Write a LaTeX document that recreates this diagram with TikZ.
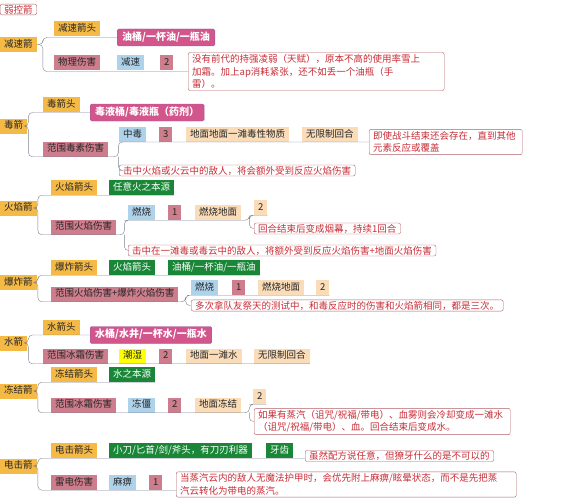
\documentclass[tikz,border=0pt]{standalone}
\usepackage{fontspec}
\setmainfont{Noto Sans CJK SC}
\usepackage{xcolor}
\usepackage{tikz}
\usetikzlibrary{positioning, calc}
\definecolor{arOrange}{RGB}{245, 185, 70}
\definecolor{arMauve}{RGB}{205, 125, 140}
\definecolor{arBlue}{RGB}{175, 210, 235}
\definecolor{arPeach}{RGB}{250, 220, 185}
\definecolor{arGreen}{RGB}{25, 135, 55}
\definecolor{arPink}{RGB}{210, 85, 140}
\definecolor{arPinkLine}{RGB}{150, 90, 170}
\definecolor{arNote}{RGB}{200, 45, 55}
\definecolor{arNoteLine}{RGB}{175, 95, 100}
\definecolor{arLink}{RGB}{125, 130, 145}
\definecolor{arWet}{RGB}{255, 255, 0}

\begin{document}
\begin{tikzpicture}[x=1pt,y=-1pt,
  box/.style={anchor=west, inner xsep=4pt, inner ysep=1pt, minimum height=15pt,
    text height=7.5pt, text depth=2pt, font=\fontsize{9.5}{11}\selectfont, text=black!85},
  cat/.style={box, fill=arOrange},
  dmg/.style={box, fill=arMauve},
  eff/.style={box, fill=arBlue},
  gnd/.style={box, fill=arPeach},
  src/.style={box, fill=arGreen, text=white},
  ing/.style={box, fill=arPink, draw=arPinkLine, rounded corners=1.5pt, text=white,
    minimum height=17pt, inner xsep=5pt, font=\fontsize{10}{11}\selectfont\bfseries},
  note/.style={anchor=west, draw=arNoteLine, fill=white, rounded corners=2pt, text=arNote,
    align=left, inner xsep=4pt, inner ysep=2pt, font=\fontsize{9.5}{12.5}\selectfont},
  link/.style={draw=arLink, thin, rounded corners=4pt}]
\useasboundingbox (0,0) rectangle (561,500);
% Root
\node[note, inner ysep=1pt] (root) at (0,9.5) {弱控箭};
% Slow arrow
\node[cat] (slow) at (0,44.5) {减速箭};
\node[cat] (slowHead) at (54,28.5) {减速箭头};
\node[ing] (slowOil) at (117,37.5) {油桶/一杯油/一瓶油};
\node[dmg] (slowDmg) at (54,63) {物理伤害};
\node[eff] (slowEff) at (117,63) {减速};
\node[dmg] (slowNum) at (160,63) {2};
\node[note, text width=248pt] (slowNote) at (188,71.5)
  {没有前代的持强凌弱（天赋），原本不高的使用率雪上\\加霜。加上ap消耗紧张，还不如丢一个油瓶（手\\雷）。};
\draw[link] (slow.east) -- ++(6,0) |- (slowOil.west);
\draw[link] (slow.east) -- ++(6,0) |- (slowNote.west);
% Poison arrow
\node[cat] (poison) at (0,126) {毒箭};
\node[cat] (poisonHead) at (43,104.5) {毒箭头};
\node[ing] (poisonLiq) at (90,112.5) {毒液桶/毒液瓶（药剂）};
\node[dmg] (poisonDmg) at (43,149) {范围毒素伤害};
\node[eff] (poisonEff) at (119,134.5) {中毒};
\node[dmg] (poisonNum) at (159,134.5) {3};
\node[gnd] (poisonGnd) at (186,134.5) {地面地面一滩毒性物质};
\node[gnd] (poisonTurn) at (302,134.5) {无限制回合};
\node[note, text width=145pt] (poisonNoteA) at (369,142) {即使战斗结束还会存在，直到其他\\元素反应或覆盖};
\node[note, inner ysep=1pt] (poisonNoteB) at (119,170.5) {击中火焰或火云中的敌人，将会额外受到反应火焰伤害};
\draw[link] (poison.east) -- ++(1,0) |- (poisonLiq.west);
\draw[link] (poison.east) -- ++(1,0) |- (poisonDmg.south west) -- (poisonDmg.south east)
  -- ++(10,0) coordinate (poisonFork) |- (poisonNoteA.west);
\draw[link] (poisonFork) |- (poisonNoteB.west);
% Fire arrow
\node[cat] (fire) at (0,208) {火焰箭};
\node[cat] (fireHead) at (51,187.5) {火焰箭头};
\node[src] (fireSrc) at (109,187.5) {任意火之本源};
\node[dmg] (fireDmg) at (51,227) {范围火焰伤害};
\node[eff] (fireEff) at (128,212.5) {燃烧};
\node[dmg] (fireNum) at (168,212.5) {1};
\node[gnd] (fireGnd) at (195,212.5) {燃烧地面};
\node[gnd] (fireTurn) at (254,207.5) {2};
\node[note, inner ysep=1pt] (fireNoteA) at (254,228.5) {回合结束后变成烟幕，持续1回合};
\node[note, inner ysep=1pt] (fireNoteB) at (128,250.5) {击中在一滩毒或毒云中的敌人，将额外受到反应火焰伤害+地面火焰伤害};
\draw[link] (fire.east) -- ++(1,0) |- (fireHead.south west) -- (fireSrc.south east);
\draw[link] (fire.east) -- ++(1,0) |- (fireDmg.south west) -- (fireDmg.south east)
  -- ++(8,0) coordinate (fireFork) |- (fireEff.south west) -- (fireGnd.south east)
  -- ++(8,0) coordinate (fireForkB) |- (fireTurn.south west) -- (fireTurn.south east);
\draw[link] (fireForkB) |- (fireNoteA.west);
\draw[link] (fireFork) |- (fireNoteB.west);
% Blast arrow
\node[cat] (blast) at (0,282.5) {爆炸箭};
\node[cat] (blastHead) at (51,267.5) {爆炸箭头};
\node[src] (blastFire) at (109,267.5) {火焰箭头};
\node[src] (blastOil) at (168,267.5) {油桶/一杯油/一瓶油};
\node[dmg] (blastDmg) at (51,294) {范围火焰伤害+爆炸火焰伤害};
\node[eff] (blastEff) at (191,287.5) {燃烧};
\node[dmg] (blastNum) at (232,287.5) {1};
\node[gnd] (blastGnd) at (258,287.5) {燃烧地面};
\node[gnd] (blastTurn) at (316,287.5) {2};
\node[note, inner ysep=1pt] (blastNote) at (191,305.5) {多次拿队友祭天的测试中，和毒反应时的伤害和火焰箭相同，都是三次。};
\draw[link] (blast.east) -- ++(1,0) |- (blastHead.south west) -- (blastOil.south east);
\draw[link] (blast.east) -- ++(1,0) |- (blastDmg.south west) -- (blastDmg.south east)
  -- ++(7,0) coordinate (blastFork) |- (blastEff.south west) -- (blastTurn.south east);
\draw[link] (blastFork) |- (blastNote.west);
% Water arrow
\node[cat] (water) at (0,343) {水箭};
\node[cat] (waterHead) at (43,327.5) {水箭头};
\node[ing] (waterLiq) at (90,335) {水桶/水井/一杯水/一瓶水};
\node[dmg] (waterDmg) at (43,356) {范围冰霜伤害};
\node[box, fill=arWet] (waterEff) at (119,356) {潮湿};
\node[dmg] (waterNum) at (159,356) {2};
\node[gnd] (waterGnd) at (186,356) {地面一滩水};
\node[gnd] (waterTurn) at (254,356) {无限制回合};
\draw[link] (water.east) -- ++(1,0) |- (waterLiq.west);
\draw[link] (water.east) -- ++(1,0) |- (waterDmg.south west) -- (waterTurn.south east);
% Frost arrow
\node[cat] (frost) at (0,391) {冻结箭};
\node[cat] (frostHead) at (51,374.5) {冻结箭头};
\node[src] (frostSrc) at (109,374.5) {水之本源};
\node[dmg] (frostDmg) at (51,405) {范围冰霜伤害};
\node[eff] (frostEff) at (128,405) {冻僵};
\node[dmg] (frostNum) at (168,405) {2};
\node[gnd] (frostGnd) at (195,405) {地面冻结};
\node[gnd] (frostTurn) at (253,396.5) {2};
\node[note, text width=248pt] (frostNote) at (254,421.5)
  {如果有蒸汽（诅咒/祝福/带电）、血雾则会冷却变成一滩水\\（诅咒/祝福/带电）、血。回合结束后变成水。};
\draw[link] (frost.east) -- ++(1,0) |- (frostHead.south west) -- (frostSrc.south east);
\draw[link] (frost.east) -- ++(1,0) |- (frostDmg.south west) -- (frostGnd.south east)
  -- ++(8,0) coordinate (frostFork) |- (frostTurn.south west) -- (frostTurn.south east);
\draw[link] (frostFork) |- (frostNote.west);
% Shock arrow
\node[cat] (shock) at (0,466) {电击箭};
\node[cat] (shockHead) at (51,450.5) {电击箭头};
\node[src] (shockBlade) at (109,450.5) {小刀/匕首/剑/斧头，有刀刃利器};
\node[src] (shockTooth) at (266,450.5) {牙齿};
\node[note, inner ysep=1pt] (shockNoteA) at (305,456) {虽然配方说任意，但獠牙什么的是不可以的};
\node[dmg] (shockDmg) at (51,482.5) {雷电伤害};
\node[eff] (shockEff) at (109,482.5) {麻痹};
\node[dmg] (shockNum) at (149,482.5) {1};
\node[note, text width=332pt] (shockNoteB) at (176,484.5)
  {当蒸汽云内的敌人无魔法护甲时，会优先附上麻痹/眩晕状态，而不是先把蒸\\汽云转化为带电的蒸汽。};
\draw[link] (shock.east) -- ++(1,0) |- (shockHead.south west) -- (shockTooth.south east)
  -- (shockNoteA.west |- shockTooth.south east);
\draw[link] (shock.east) -- ++(1,0) |- (shockDmg.south west) -- (shockNum.south east)
  -- (shockNoteB.west |- shockNum.south east);
\end{tikzpicture}
\end{document}
